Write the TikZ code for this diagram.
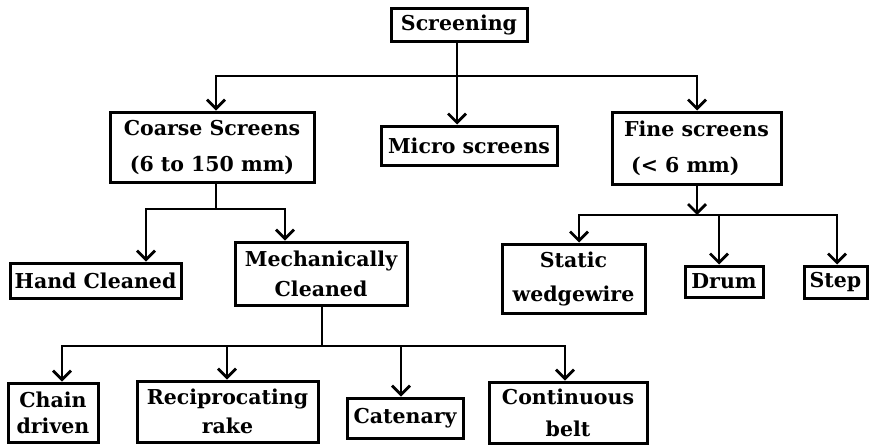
\documentclass[tikz,border=0pt]{standalone}
\usepackage{fontspec}
\setmainfont{DejaVu Serif}
\usetikzlibrary{arrows.meta}
\begin{document}
\begin{tikzpicture}[x=1pt,y=-1pt,
  box/.style={draw, line width=3pt, inner sep=1pt, align=center,
    font=\bfseries\fontsize{20.5}{#1}\selectfont},
  box/.default=28,
  conn/.style={line width=2.8pt},
  arr/.style={conn,-{Straight Barb[length=9pt,width=18pt]}},
  arrb/.style={conn,line join=miter,{Straight Barb[length=9pt,width=18pt]}-{Straight Barb[length=9pt,width=18pt]}}]
\useasboundingbox (0,0) rectangle (872,445);
% level 0
\node[box, minimum width=136pt, minimum height=33pt] (scr) at (459,24.5) {Screening};
% level 1
\node[box=36, minimum width=204pt, minimum height=70pt] (coarse) at (212,147) {Coarse Screens\\(6 to 150 mm)};
\node[box, minimum width=176pt, minimum height=39pt] (micro) at (469,145.5) {Micro screens};
\node[box=36, align=left, minimum width=169pt, minimum height=72pt] (fine) at (696.5,148) {Fine screens\\\hspace*{7pt}(\textless{} 6 mm)};
% level 2 left
\node[box, minimum width=171pt, minimum height=35pt] (hand) at (95.5,280.5) {Hand Cleaned};
\node[box=30, minimum width=172pt, minimum height=63pt] (mech) at (321,273.5) {Mechanically\\Cleaned};
% level 2 right
\node[box=34, minimum width=143pt, minimum height=69pt] (static) at (573.5,278.5) {Static\\wedgewire};
\node[box, minimum width=78pt, minimum height=31pt] (drum) at (724,281.5) {Drum};
\node[box, minimum width=63pt, minimum height=32pt] (step) at (835.5,282) {Step};
% level 3
\node[box=26, minimum width=90pt, minimum height=59pt] (chain) at (53,412.5) {Chain\\driven};
\node[box=29, minimum width=181pt, minimum height=61pt] (recip) at (227.5,411.5) {Reciprocating\\rake};
\node[box, minimum width=116pt, minimum height=40pt] (caten) at (405,418) {Catenary};
\node[box=32, minimum width=158pt, minimum height=61pt] (cont) at (568,412.5) {Continuous\\belt};

% bus junction points
\coordinate (b1l) at (216,76);
\coordinate (b1) at (457,76);
\coordinate (b1r) at (697,76);
\coordinate (b2l) at (146,209);
\coordinate (b2) at (216,209);
\coordinate (b2r) at (285,209);
\coordinate (b3l) at (62,346);
\coordinate (b3a) at (227,346);
\coordinate (b3) at (322,346);
\coordinate (b3b) at (401,346);
\coordinate (b3r) at (565,346);
\coordinate (b4l) at (579,215);
\coordinate (b4) at (697,215);
\coordinate (b4a) at (719,215);
\coordinate (b4r) at (837,215);

% Screening
\draw[conn] (b1 |- scr.south) -- (b1);
\draw[arrb] (b1l |- coarse.north) -- (b1l) -- (b1r) -- (b1r |- fine.north);
\draw[arr] (b1) -- (b1 |- micro.north);
% Coarse
\draw[conn] (b2 |- coarse.south) -- (b2);
\draw[arrb] (b2l |- hand.north) -- (b2l) -- (b2r) -- (b2r |- mech.north);
% Mechanically cleaned
\draw[conn] (b3 |- mech.south) -- (b3);
\draw[arrb] (b3l |- chain.north) -- (b3l) -- (b3r) -- (b3r |- cont.north);
\draw[arr] (b3a) -- (b3a |- recip.north);
\draw[arr] (b3b) -- (b3b |- caten.north);
% Fine
\draw[arr] (b4 |- fine.south) -- (b4);
\draw[arrb] (b4l |- static.north) -- (b4l) -- (b4r) -- (b4r |- step.north);
\draw[arr] (b4a) -- (b4a |- drum.north);
\end{tikzpicture}
\end{document}
